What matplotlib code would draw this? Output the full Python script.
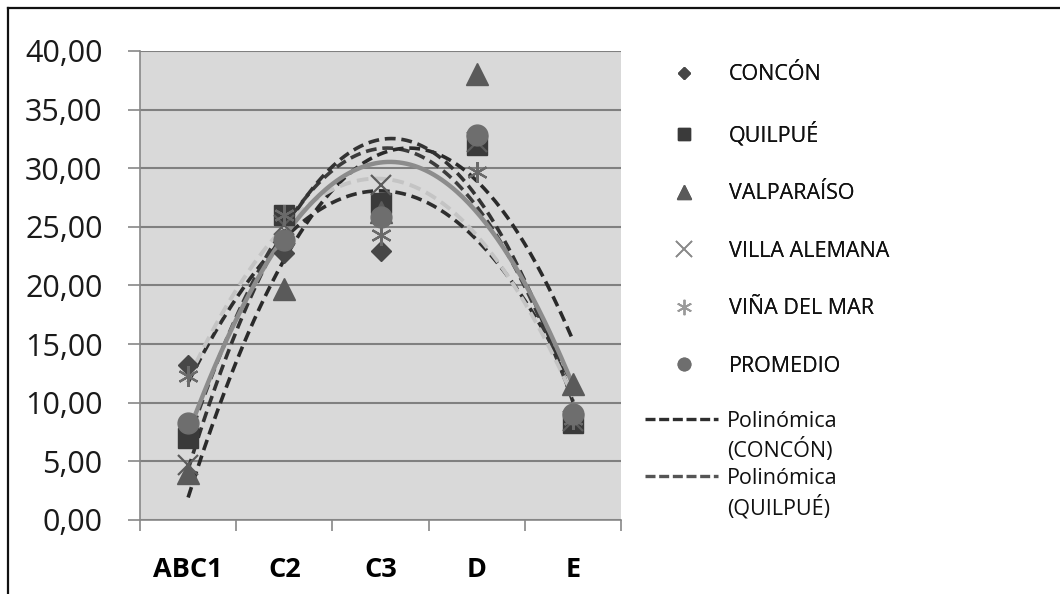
import numpy as np
import matplotlib
matplotlib.use("Agg")
import matplotlib.pyplot as plt
from matplotlib.lines import Line2D

plt.rcParams['font.family'] = ['Open Sans', 'DejaVu Sans']

categorias = ["ABC1", "C2", "C3", "D", "E"]
concon = [13.2, 22.8, 22.9, 32.0, 8.3]
quilpue = [7.0, 26.0, 27.0, 32.0, 8.3]
valparaiso = [4.0, 19.7, 26.3, 38.0, 11.6]
villa_alemana = [4.7, 25.2, 28.6, 32.2, 8.4]
vina_del_mar = [12.3, 26.0, 24.3, 29.7, 8.6]
promedio = [8.3, 23.9, 25.8, 32.8, 9.0]

x = np.arange(1, len(categorias) + 1)

fig = plt.figure(figsize=(10.6, 5.94), dpi=100)
ax = fig.add_axes([0.1321, 0.1246, 0.4538, 0.7896])
ax.set_facecolor("#d9d9d9")

# puntos
series = [
    ("CONCÓN", concon, "D", "#474747", 10),
    ("QUILPUÉ", quilpue, "s", "#3a3a3a", 15),
    ("VALPARAÍSO", valparaiso, "^", "#5a5a5a", 16),
    ("VILLA ALEMANA", villa_alemana, "x", "#5c5c5c", 14),
    ("VIÑA DEL MAR", vina_del_mar, "*", "#6a6a6a", 15),
    ("PROMEDIO", promedio, "o", "#6e6e6e", 15),
]

# lineas de tendencia polinomicas (orden 2)
dash = (0, (3, 1.6))
trend_styles = [
    dict(color="#2e2e2e", ls=dash, lw=2.6),
    dict(color="#3c3c3c", ls=dash, lw=2.6),
    dict(color="#2a2a2a", ls=dash, lw=2.6),
    dict(color="#333333", ls=dash, lw=2.6),
    dict(color="#c4c4c4", ls=dash, lw=2.8),
    dict(color="#8c8c8c", ls="-", lw=3.2),
]

xs = np.linspace(1, 5, 200)
for (nombre, y, m, c, s), st in zip(series, trend_styles):
    coef = np.polyfit(x, y, 2)
    ax.plot(xs, np.polyval(coef, xs), zorder=3, **st)

handles = []
for nombre, y, m, c, s in series:
    if m in ("x", "*"):
        mk = "x" if m == "x" else (6, 2, 0)
        ax.plot(x, y, ls="none", marker=mk, ms=s, mec=c, mew=1.6, zorder=4)
        h = Line2D([], [], ls="none", marker=mk, ms=11,
                   mec="#8a8a8a" if m == "x" else "#9a9a9a", mew=1.2)
    else:
        ax.plot(x, y, ls="none", marker=m, ms=s, mfc=c, mec=c, zorder=4)
        h = Line2D([], [], ls="none", marker=m, ms=s * 0.6, mfc=c, mec=c)
    handles.append((h, nombre))

ax.set_xlim(0.5, 5.5)
ax.set_ylim(0, 40)
ax.set_yticks(np.arange(0, 41, 5))
ax.set_yticklabels([f"{v:.2f}".replace(".", ",") for v in np.arange(0, 41, 5)],
                   fontsize=22, color="#1a1a1a")
ax.set_xticks(x)
ax.set_xticklabels(categorias, fontsize=19.5, fontweight="bold")
ax.set_xticks(np.arange(0.5, 5.6, 1), minor=True)
ax.tick_params(axis="x", which="major", length=0, pad=27)
ax.tick_params(axis="x", which="minor", length=8, color="#888888", width=1.2)
ax.tick_params(axis="y", length=9, color="#888888", width=1.2, pad=18)
ax.grid(axis="y", color="#808080", lw=1.5)
ax.set_axisbelow(True)
for sp in ["top", "right"]:
    ax.spines[sp].set_visible(False)
for sp in ["left", "bottom"]:
    ax.spines[sp].set_color("#888888")
    ax.spines[sp].set_linewidth(1.2)

fs = 15.5
leg1 = fig.legend([h for h, n in handles], [n for h, n in handles],
                  loc="upper left", bbox_to_anchor=(0.6287, 0.906),
                  frameon=False, fontsize=fs, labelspacing=1.70,
                  handlelength=0.8, handletextpad=1.7, borderaxespad=0)
for t in leg1.get_texts():
    t.set_color("#111111")
fig.add_artist(leg1)

empty = Line2D([], [], ls="none")
trend_handles = [Line2D([], [], color="#2e2e2e", ls=(0, (3, 1.1)), lw=2.4), empty,
                 Line2D([], [], color="#555555", ls=(0, (3, 1.1)), lw=2.4), empty]
leg2 = fig.legend(trend_handles, ["Polinómica", "(CONCÓN)", "Polinómica", "(QUILPUÉ)"],
                  loc="upper left", bbox_to_anchor=(0.6004, 0.323),
                  frameon=False, fontsize=fs, labelspacing=0.28,
                  handlelength=3.4, handletextpad=0.42, borderaxespad=0)
for t in leg2.get_texts():
    t.set_color("#111111")

# marco
fig.add_artist(Line2D([0.0075, 0.0075], [0, 0.9865], color="#111111", lw=1.6))
fig.add_artist(Line2D([0.0075, 1.0], [0.9865, 0.9865], color="#111111", lw=1.6))

fig.savefig("out.png", dpi=100)
